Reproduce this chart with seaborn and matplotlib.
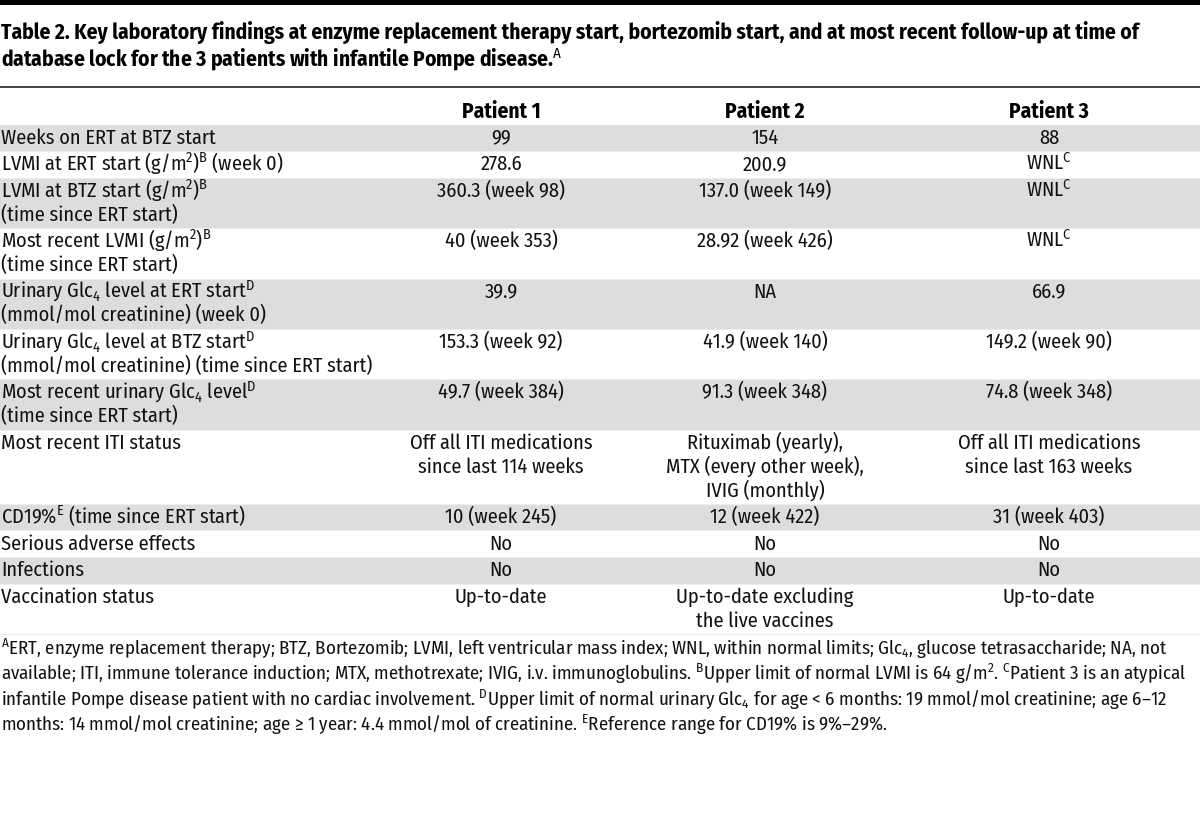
import matplotlib
matplotlib.use("Agg")
import matplotlib.pyplot as plt
from matplotlib import font_manager as fm
import seaborn as sns

sns.set_theme(style="white")
available = {f.name for f in fm.fontManager.ttflist}
FONT = next((f for f in ["Fira Sans Condensed", "Barlow Semi Condensed", "Roboto Condensed",
                         "Asap Condensed", "Archivo Narrow", "Liberation Sans Narrow",
                         "DejaVu Sans"] if f in available), "DejaVu Sans")
plt.rcParams["font.family"] = [FONT, "DejaVu Sans"]
plt.rcParams["mathtext.fontset"] = "custom"
plt.rcParams["mathtext.rm"] = FONT
plt.rcParams["mathtext.it"] = FONT + ":italic"
plt.rcParams["mathtext.bf"] = FONT + ":bold"

# ---------------- data ----------------
title_lines = [
    "Table 2. Key laboratory findings at enzyme replacement therapy start, bortezomib start, and at most recent follow-up at time of",
    r"database lock for the 3 patients with infantile Pompe disease.$^{\mathrm{A}}$",
]
headers = ["Patient 1", "Patient 2", "Patient 3"]
row_labels = [
    ["Weeks on ERT at BTZ start"],
    [r"LVMI at ERT start (g/m$^{2}$)$^{\mathrm{B}}$ (week 0)"],
    [r"LVMI at BTZ start (g/m$^{2}$)$^{\mathrm{B}}$", "(time since ERT start)"],
    [r"Most recent LVMI (g/m$^{2}$)$^{\mathrm{B}}$", "(time since ERT start)"],
    [r"Urinary Glc$_{4}$ level at ERT start$^{\mathrm{D}}$", "(mmol/mol creatinine) (week 0)"],
    [r"Urinary Glc$_{4}$ level at BTZ start$^{\mathrm{D}}$", "(mmol/mol creatinine) (time since ERT start)"],
    [r"Most recent urinary Glc$_{4}$ level$^{\mathrm{D}}$", "(time since ERT start)"],
    ["Most recent ITI status"],
    [r"CD19%$^{\mathrm{E}}$ (time since ERT start)"],
    ["Serious adverse effects"],
    ["Infections"],
    ["Vaccination status"],
]
patient1 = [
    ["99"], ["278.6"], ["360.3 (week 98)"], ["40 (week 353)"], ["39.9"],
    ["153.3 (week 92)"], ["49.7 (week 384)"],
    ["Off all ITI medications", "since last 114 weeks"],
    ["10 (week 245)"], ["No"], ["No"], ["Up-to-date"],
]
patient2 = [
    ["154"], ["200.9"], ["137.0 (week 149)"], ["28.92 (week 426)"], ["NA"],
    ["41.9 (week 140)"], ["91.3 (week 348)"],
    ["Rituximab (yearly),", "MTX (every other week),", "IVIG (monthly)"],
    ["12 (week 422)"], ["No"], ["No"], ["Up-to-date excluding", "the live vaccines"],
]
patient3 = [
    ["88"], [r"WNL$^{\mathrm{C}}$"], [r"WNL$^{\mathrm{C}}$"], [r"WNL$^{\mathrm{C}}$"], ["66.9"],
    ["149.2 (week 90)"], ["74.8 (week 348)"],
    ["Off all ITI medications", "since last 163 weeks"],
    ["31 (week 403)"], ["No"], ["No"], ["Up-to-date"],
]
footnote_lines = [
    r"$^{\mathrm{A}}$ERT, enzyme replacement therapy; BTZ, Bortezomib; LVMI, left ventricular mass index; WNL, within normal limits; Glc$_{4}$, glucose tetrasaccharide; NA, not",
    r"available; ITI, immune tolerance induction; MTX, methotrexate; IVIG, i.v. immunoglobulins. $^{\mathrm{B}}$Upper limit of normal LVMI is 64 g/m$^{2}$. $^{\mathrm{C}}$Patient 3 is an atypical",
    r"infantile Pompe disease patient with no cardiac involvement. $^{\mathrm{D}}$Upper limit of normal urinary Glc$_{4}$ for age < 6 months: 19 mmol/mol creatinine; age 6–12",
    r"months: 14 mmol/mol creatinine; age ≥ 1 year: 4.4 mmol/mol of creatinine. $^{\mathrm{E}}$Reference range for CD19% is 9%–29%.",
]

# ---------------- layout ----------------
W, H = 1200, 832
fig = plt.figure(figsize=(W / 100, H / 100), dpi=100)
ax = fig.add_axes([0, 0, 1, 1])
ax.set_xlim(0, W)
ax.set_ylim(H, 0)
ax.axis("off")
renderer = fig.canvas.get_renderer()


def fit_size(s, target_px, weight="normal", trial=13.0):
    t = ax.text(0, 0, s, fontsize=trial, fontweight=weight)
    w = t.get_window_extent(renderer=renderer).width
    t.remove()
    return trial * target_px / w


BODY = fit_size(row_labels[0][0], 215)
TITLE = fit_size(title_lines[0], 1139, "bold")
FOOT = fit_size(footnote_lines[1], 1186)
TXT = "#111111"
SHADE = "#dcdddf"
col_x = [501, 765, 1049]
LINE_H = 23.8
ROW_PAD = 2.8
BASE_OFF = 17.8

# top black bar
ax.axhspan(0, 5, color="black", lw=0)
# title
for i, t in enumerate(title_lines):
    ax.text(1, 38.5 + 28 * i, t, ha="left", va="baseline", fontsize=TITLE,
            fontweight="bold", color="black")
# rule under title
ax.axhline(86.5, color="#333333", lw=1.3)
# header
for x, h in zip(col_x, headers):
    ax.text(x, 117.5, h, ha="center", va="baseline", fontsize=TITLE,
            fontweight="bold", color="black")

# body rows
top = 124.5
for r in range(len(row_labels)):
    cells = [row_labels[r], patient1[r], patient2[r], patient3[r]]
    n = max(len(c) for c in cells)
    h = LINE_H * n + ROW_PAD
    if r % 2 == 0:
        ax.axhspan(top, top + h, color=SHADE, lw=0, zorder=0)
    ax.axhline(top + h, color="#eeeeee", lw=0.8, zorder=0.5)
    for ci, cell in enumerate(cells):
        for li, ln in enumerate(cell):
            y = top + ROW_PAD / 2 + LINE_H * li + BASE_OFF
            if ci == 0:
                ax.text(1, y, ln, ha="left", va="baseline", fontsize=BODY, color=TXT)
            else:
                ax.text(col_x[ci - 1], y, ln, ha="center", va="baseline",
                        fontsize=BODY, color=TXT)
    top += h

# footnotes
for i, t in enumerate(footnote_lines):
    ax.text(1, 655 + 25.3 * i, t, ha="left", va="baseline", fontsize=FOOT, color=TXT)

fig.savefig("out.png", dpi=100, facecolor="white")
